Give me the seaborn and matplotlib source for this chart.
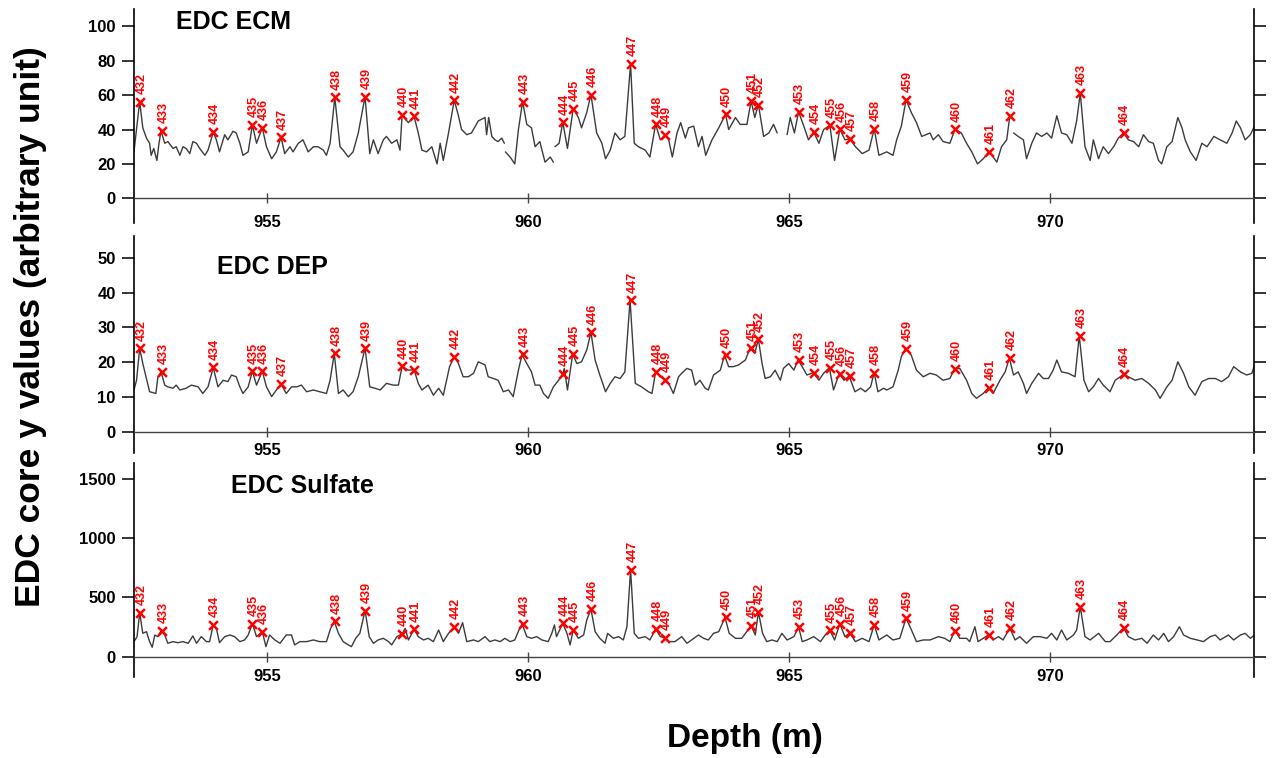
import numpy as np
import pandas as pd
import seaborn as sns
import matplotlib.pyplot as plt

nan = float("nan")

# volcanic events picked on the three records
event_id = [432, 433, 434, 435, 436, 437, 438, 439, 440, 441, 442,
            443, 444, 445, 446, 447, 448, 449, 450, 451, 452, 453,
            454, 455, 456, 457, 458, 459, 460, 461, 462, 463, 464]
event_depth = [952.55, 952.97, 953.96, 954.70, 954.90, 955.26, 956.29, 956.87, 957.58, 957.81, 958.58,
               959.89, 960.66, 960.86, 961.20, 961.96, 962.44, 962.62, 963.78, 964.27, 964.41, 965.18,
               965.47, 965.78, 965.97, 966.16, 966.63, 967.24, 968.18, 968.83, 969.24, 970.58, 971.41]
ecm_peak = [56.3, 39.2, 38.5, 42.7, 41.1, 35.5, 58.8, 59.2, 48.4, 47.6, 57.1,
            56.3, 44.3, 52.2, 60.4, 78.3, 43.1, 36.9, 48.9, 56.7, 54.5, 50.3,
            38.6, 42.5, 40.2, 34.6, 40.4, 57.3, 40.2, 27.2, 48.1, 61.2, 38.2]
dep_peak = [24.0, 17.2, 18.5, 17.4, 17.4, 13.7, 22.5, 24.0, 18.8, 17.8, 21.6,
            22.2, 16.6, 22.3, 28.6, 37.8, 17.2, 14.9, 22.0, 24.0, 26.6, 20.6,
            17.0, 18.4, 16.7, 16.0, 17.0, 23.9, 18.1, 12.6, 21.2, 27.6, 16.5]
so4_peak = [369, 220, 270, 279, 211, None, 299, 389, 192, 231, 253,
            276, 282, 225, 403, 735, 234, 160, 333, 262, 378, 251,
            None, 223, 276, 200, 268, 324, 220, 186, 242, 422, 245]

# ECM trace (nan = gap in the record)
ecm_depth = [952.44, 952.55, 952.61, 952.68, 952.74, 952.77, 952.82, 952.88, 952.92, 952.96,
             953.03, 953.09, 953.19, 953.25, 953.32, 953.38, 953.44, 953.51, 953.57, 953.64,
             953.70, 953.80, 953.86, 953.96, 954.02, 954.08, 954.18, 954.24, 954.34, 954.40,
             954.47, 954.53, 954.63, 954.71, 954.79, 954.90, 954.98, 955.08, 955.17, 955.26,
             955.33, 955.43, 955.49, 955.59, 955.68, 955.78, 955.88, 955.97, 956.07, 956.13,
             956.20, 956.29, 956.39, 956.45, 956.55, 956.64, 956.74, 956.87, 956.96, 957.03,
             957.12, 957.22, 957.28, 957.38, 957.48, 957.54, 957.58, 957.70, 957.81, 957.89,
             957.96, 958.05, 958.15, 958.25, 958.31, 958.37, 958.47, 958.58, 958.66, 958.72,
             958.82, 958.91, 959.04,
             959.17, 959.20, 959.24, 959.30, 959.36, 959.42, 959.49, 959.54, 959.55, 959.56,
             959.65, 959.74, 959.81, 959.89, 959.97, 960.06, 960.13, 960.22, 960.32, 960.42,
             960.48, 960.50, 960.51, 960.59, 960.66, 960.75, 960.86, 960.96, 961.02, 961.12,
             961.20, 961.31, 961.41, 961.48, 961.57, 961.66, 961.76, 961.85, 961.96, 962.03,
             962.11, 962.24, 962.33, 962.44, 962.53, 962.62, 962.69, 962.76, 962.85, 962.92,
             963.01, 963.07, 963.17, 963.26, 963.33, 963.40, 963.52, 963.65, 963.78, 963.84,
             963.97, 964.06, 964.19, 964.27, 964.34, 964.41, 964.51, 964.61, 964.70, 964.77,
             964.86, 964.96, 965.02, 965.10, 965.18, 965.28, 965.37, 965.47, 965.57, 965.66,
             965.78, 965.87, 965.97, 966.07, 966.16, 966.27, 966.40, 966.53, 966.63, 966.72,
             966.87, 966.99, 967.06, 967.15, 967.24, 967.34, 967.44, 967.54, 967.70, 967.76,
             967.86, 967.95, 968.08, 968.18, 968.30, 968.40, 968.50, 968.61, 968.72, 968.83,
             968.91, 968.98, 969.07, 969.17, 969.23, 969.27, 969.30, 969.39, 969.49, 969.55,
             969.65, 969.74, 969.84, 969.94, 970.03, 970.13, 970.22, 970.32, 970.42, 970.51,
             970.58, 970.67, 970.77, 970.83, 970.93, 971.02, 971.12, 971.22, 971.31, 971.41,
             971.50, 971.60, 971.70, 971.79, 971.89, 971.98, 972.08, 972.14, 972.24, 972.34,
             972.45, 972.53, 972.59, 972.69, 972.80, 972.91, 973.01, 973.14, 973.26, 973.39,
             973.49, 973.57, 973.65, 973.74, 973.84, 973.92]
ecm_value = [27, 56.3, 41, 35, 32, 25, 29, 22, 32, 39.2,
             32, 33, 29, 30, 25, 30, 29, 26, 33, 32,
             29, 25, 28, 38.5, 34, 27, 37, 34, 39, 38,
             32, 25, 27, 42.7, 32, 41.1, 30, 23, 27, 35.5,
             26, 30, 27, 32, 34, 27, 30, 30, 28, 25,
             32, 58.8, 30, 28, 24, 27, 38, 59.2, 26, 34,
             26, 34, 36, 32, 34, 28, 48.4, 44, 47.6, 38,
             28, 27, 30, 20, 32, 22, 38, 57.1, 48, 40,
             37, 38, 45,
             47, 37, 47, 36, 34, 33, 35, 32, nan, 27,
             24, 20, 40, 56.3, 43, 41, 30, 33, 21, 24,
             21, nan, 30, 32, 44.3, 29, 52.2, 47, 41, 50,
             60.4, 38, 32, 23, 28, 38, 34, 36, 78.3, 32,
             30, 28, 24, 43.1, 34, 36.9, 34, 24, 38, 44,
             35, 41, 42, 30, 36, 25, 34, 41, 48.9, 40,
             47, 43, 43, 56.7, 47, 54.5, 36, 38, 43, 38,
             nan, 37, 47, 38, 50.3, 42, 34, 38.6, 32, 40,
             42.5, 22, 40.2, 34, 34.6, 30, 26, 28, 40.4, 25,
             27, 25, 34, 42, 57.3, 50, 44, 36, 38, 34,
             37, 33, 32, 40.2, 38, 32, 27, 20, 23, 27.2,
             24, 21, 30, 34, 48.1, nan, 38, 36, 34, 23,
             32, 38, 36, 38, 35, 48, 38, 37, 32, 45,
             61.2, 30, 22, 34, 23, 30, 26, 30, 35, 38.2,
             34, 33, 30, 37, 33, 32, 22, 20, 30, 33,
             47, 41, 34, 27, 22, 32, 30, 36, 34, 32,
             38, 45, 41, 34, 37, 42]

# DEP trace
dep_depth = [952.44, 952.49, 952.55, 952.61, 952.68, 952.74, 952.86, 952.90, 952.96, 953.03,
             953.09, 953.19, 953.25, 953.32, 953.44, 953.54, 953.67, 953.76, 953.86, 953.96,
             954.05, 954.15, 954.24, 954.31, 954.40, 954.47, 954.53, 954.63, 954.71, 954.79,
             954.90, 954.98, 955.08, 955.17, 955.26, 955.36, 955.46, 955.56, 955.65, 955.75,
             955.88, 956.00, 956.13, 956.20, 956.28, 956.36, 956.45, 956.55, 956.64, 956.74,
             956.87, 956.96, 957.06, 957.16, 957.28, 957.41, 957.51, 957.58, 957.70, 957.81,
             957.89, 957.96, 958.08, 958.18, 958.28, 958.37, 958.49, 958.58, 958.66, 958.75,
             958.85, 958.95, 959.04,
             959.17, 959.23, 959.33, 959.42, 959.52, 959.62, 959.71, 959.81, 959.88, 959.97,
             960.06, 960.13, 960.22, 960.29, 960.38, 960.48, 960.58, 960.66, 960.69, 960.75,
             960.85, 960.93, 961.02, 961.12, 961.20, 961.28, 961.37, 961.48, 961.57, 961.66,
             961.76, 961.85, 961.95, 962.05, 962.17, 962.30, 962.37, 962.44, 962.53, 962.62,
             962.69, 962.78, 962.88, 962.94, 963.04, 963.13, 963.20, 963.29, 963.39, 963.45,
             963.55, 963.68, 963.76, 963.84, 963.93, 964.03, 964.16, 964.25, 964.34, 964.41,
             964.48, 964.54, 964.64, 964.73, 964.83, 964.89, 964.99, 965.09, 965.17, 965.25,
             965.34, 965.46, 965.57, 965.66, 965.77, 965.85, 965.96, 966.05, 966.15, 966.26,
             966.37, 966.46, 966.56, 966.63, 966.70, 966.81,
             966.87, 966.99, 967.09, 967.15, 967.23, 967.34, 967.44, 967.57, 967.70, 967.82,
             967.95, 968.08, 968.17, 968.27, 968.40, 968.50, 968.59, 968.72, 968.82, 968.91,
             969.04, 969.14, 969.22, 969.30, 969.39, 969.49, 969.55, 969.65, 969.78, 969.87,
             969.97, 970.06, 970.13, 970.22, 970.35, 970.48, 970.56, 970.65, 970.74, 970.83,
             970.93, 971.02, 971.15, 971.25, 971.41, 971.50, 971.63, 971.76, 971.89, 972.02,
             972.11, 972.24, 972.34, 972.45, 972.56, 972.66, 972.78, 972.91, 973.04, 973.17,
             973.29, 973.42, 973.52, 973.65, 973.77, 973.87, 973.92]
dep_value = [12.0, 14.8, 24.0, 19.6, 15.3, 11.5, 11.0, 15.8, 17.2, 13.4,
             12.9, 12.5, 13.4, 12.0, 12.5, 13.4, 12.9, 11.0, 12.9, 18.5,
             12.9, 14.8, 14.4, 16.3, 15.8, 12.9, 11.0, 12.9, 17.4, 13.4,
             17.4, 12.9, 10.1, 12.0, 13.7, 11.0, 12.9, 12.9, 13.4, 11.5,
             12.0, 11.5, 11.0, 14.8, 22.5, 11.0, 12.0, 10.1, 11.5, 15.8,
             24.0, 12.9, 12.5, 12.0, 13.9, 13.4, 13.4, 18.8, 17.7, 17.8,
             13.9, 12.0, 13.4, 10.5, 12.5, 10.5, 18.7, 21.6, 19.6, 15.8,
             15.8, 16.8, 20.1,
             19.2, 15.8, 15.3, 14.8, 11.5, 12.0, 10.1, 17.7, 22.2, 19.6,
             17.2, 13.4, 13.4, 11.0, 9.6, 12.9, 14.8, 16.6, 18.2, 12.0,
             22.3, 19.6, 20.1, 23.5, 28.6, 20.6, 16.3, 11.5, 13.9, 15.8,
             15.3, 17.2, 37.8, 13.9, 12.9, 11.5, 11.0, 17.2, 15.8, 14.9,
             13.9, 11.0, 15.8, 16.8, 18.2, 17.7, 13.4, 14.8, 12.5, 12.0,
             16.3, 17.7, 22.0, 18.7, 18.7, 19.2, 20.6, 24.0, 22.5, 26.6,
             19.6, 15.3, 15.8, 17.7, 14.8, 18.2, 19.6, 17.7, 20.6, 18.7,
             16.3, 17.0, 14.8, 16.8, 18.4, 12.0, 16.7, 14.8, 16.0, 11.5,
             12.5, 11.5, 12.9, 17.0, 11.5, 12.5,
             12.0, 12.9, 17.7, 21.6, 23.9, 22.0, 17.7, 15.8, 16.8, 16.3,
             14.8, 15.3, 18.1, 18.2, 14.8, 11.0, 9.6, 11.0, 12.6, 11.0,
             14.8, 17.2, 21.2, 16.3, 17.2, 13.9, 11.0, 13.9, 16.8, 15.3,
             15.3, 17.7, 20.6, 17.2, 16.8, 15.8, 27.6, 14.8, 11.5, 12.9,
             15.3, 13.4, 11.5, 14.8, 16.5, 15.8, 14.8, 15.3, 13.9, 12.0,
             9.6, 12.9, 14.8, 20.1, 16.8, 12.9, 10.5, 14.4, 15.3, 15.3,
             14.4, 15.8, 18.7, 17.2, 16.3, 16.8, 19.2]

# sulfate trace
so4_depth = [952.44, 952.50, 952.55, 952.61, 952.68, 952.74, 952.79, 952.84, 952.90, 952.96,
             953.03, 953.09, 953.19, 953.28, 953.38, 953.48, 953.57, 953.64, 953.73, 953.83,
             953.89, 953.96, 954.02, 954.08, 954.18, 954.28, 954.37, 954.47, 954.56, 954.63,
             954.71, 954.79, 954.90, 954.97, 955.04, 955.14, 955.24, 955.36, 955.46, 955.52,
             955.62, 955.75, 955.88, 956.00, 956.13, 956.21, 956.28, 956.36, 956.45, 956.55,
             956.61, 956.69, 956.77, 956.87, 956.95, 957.03, 957.12, 957.22, 957.32, 957.38,
             957.48, 957.58, 957.64, 957.70, 957.81, 957.89, 957.99, 958.08, 958.18, 958.28,
             958.37, 958.47, 958.58, 958.66, 958.74, 958.82, 958.95, 959.04,
             959.17, 959.26, 959.36, 959.46, 959.55, 959.65, 959.74, 959.82, 959.88, 959.97,
             960.06, 960.16, 960.26, 960.38, 960.45, 960.50, 960.54, 960.66, 960.74, 960.80,
             960.86, 960.96, 961.06, 961.12, 961.20, 961.28, 961.37, 961.47, 961.52, 961.63,
             961.73, 961.82, 961.89, 961.96, 962.03, 962.11, 962.24, 962.33, 962.44, 962.53,
             962.62, 962.69, 962.81, 962.94, 963.04, 963.13, 963.26, 963.36, 963.45, 963.55,
             963.65, 963.77, 963.85, 963.97, 964.09, 964.21, 964.27, 964.35, 964.41, 964.49,
             964.57, 964.67, 964.77, 964.86, 964.96, 965.09, 965.18, 965.25, 965.34, 965.47,
             965.60, 965.69, 965.78, 965.87, 965.97, 966.07, 966.16, 966.27, 966.40, 966.53,
             966.63, 966.72,
             966.87, 966.99, 967.12, 967.24, 967.33, 967.44, 967.57, 967.70, 967.86, 967.98,
             968.08, 968.18, 968.27, 968.40, 968.46, 968.56, 968.62, 968.72, 968.83, 968.91,
             969.01, 969.10, 969.23, 969.33, 969.42, 969.55, 969.68, 969.81, 969.94, 970.03,
             970.13, 970.22, 970.32, 970.45, 970.51, 970.58, 970.67, 970.77, 970.93, 971.06,
             971.15, 971.28, 971.41, 971.50, 971.63, 971.76, 971.86, 971.98, 972.08, 972.18,
             972.27, 972.37, 972.48, 972.56, 972.69, 972.82, 972.94, 973.07, 973.17, 973.26,
             973.42, 973.52, 973.65, 973.74, 973.84, 973.92]
so4_value = [127, 169, 369, 197, 211, 127, 79, 183, 169, 220,
             183, 113, 127, 118, 127, 113, 175, 113, 169, 127,
             127, 270, 239, 118, 169, 183, 169, 127, 141, 183,
             279, 169, 211, 85, 183, 141, 113, 183, 183, 99,
             127, 127, 141, 127, 127, 239, 299, 197, 127, 99,
             85, 155, 197, 389, 169, 113, 141, 155, 127, 99,
             169, 192, 239, 141, 231, 169, 141, 155, 127, 225,
             127, 197, 253, 197, 287, 127, 141, 127,
             169, 127, 141, 127, 155, 127, 141, 225, 276, 169,
             155, 169, 141, 127, 197, 268, 169, 282, 197, 99,
             225, 155, 183, 310, 403, 211, 155, 113, 197, 155,
             169, 141, 253, 735, 197, 155, 169, 141, 234, 169,
             160, 127, 127, 169, 113, 141, 183, 155, 141, 197,
             211, 333, 197, 155, 155, 225, 262, 183, 378, 197,
             127, 141, 127, 197, 141, 169, 251, 127, 141, 169,
             127, 183, 223, 141, 276, 169, 200, 127, 155, 127,
             268, 141,
             183, 141, 155, 324, 239, 127, 141, 141, 169, 155,
             127, 220, 155, 155, 127, 253, 127, 155, 186, 141,
             169, 141, 242, 141, 169, 113, 169, 169, 155, 197,
             141, 225, 141, 183, 225, 422, 169, 141, 197, 127,
             127, 183, 245, 169, 141, 155, 113, 183, 141, 197,
             127, 169, 253, 183, 155, 141, 127, 169, 183, 141,
             183, 141, 183, 197, 155, 183]

# figure: 3 stacked panels
sns.set_style("white")
plt.rcParams["font.family"] = ["Liberation Sans", "DejaVu Sans"]
plt.rcParams["font.weight"] = "bold"
plt.rcParams["text.color"] = "black"

fig = plt.figure(figsize=(12.83, 7.58), dpi=100)

panels = [
    ("EDC ECM", ecm_depth, ecm_value, ecm_peak, (-14.6, 110), [0, 20, 40, 60, 80, 100],
     [0.1044, 0.7054, 0.8730, 0.2823], (0.0372, 0.9065), 8.2),
    ("EDC DEP", dep_depth, dep_value, dep_peak, (-6.1, 56.1), [0, 10, 20, 30, 40, 50],
     [0.1044, 0.4024, 0.8730, 0.2856], (0.0738, 0.827), 4.6),
    ("EDC Sulfate", so4_depth, so4_value, so4_peak, (-169, 1636), [0, 500, 1000, 1500],
     [0.1044, 0.1073, 0.8730, 0.2819], (0.0863, 0.858), 5.1),
]

for title, depth, value, peak, ylim, yticks, rect, title_xy, xpad in panels:
    ax = fig.add_axes(rect)
    val = np.array(value, dtype=float)
    df = pd.DataFrame({"depth": depth, "value": val,
                       "seg": np.cumsum(np.isnan(val))}).dropna()
    sns.lineplot(data=df, x="depth", y="value", units="seg", estimator=None,
                 color="#3c3c3c", lw=1.0, ax=ax)

    ev = pd.DataFrame({"id": event_id, "depth": event_depth, "value": peak}).dropna()
    sns.scatterplot(data=ev, x="depth", y="value", marker="x", color="red",
                    s=40, linewidth=1.8, ax=ax, zorder=4)
    for eid, d, v in zip(ev["id"], ev["depth"], ev["value"]):
        ax.annotate(str(int(eid)), (d, v), xytext=(1.2, 5.5), textcoords="offset points",
                    rotation=90, ha="center", va="bottom", color="red",
                    fontsize=9, fontweight="bold")

    ax.set_xlim(952.44, 973.91)
    ax.set_ylim(*ylim)
    ax.set_xticks([955, 960, 965, 970])
    ax.set_yticks(yticks)
    ax.set_xlabel("")
    ax.set_ylabel("")

    ax.spines["top"].set_visible(False)
    ax.spines["bottom"].set_position(("data", 0))
    ax.spines["bottom"].set_color("#444444")
    ax.spines["bottom"].set_linewidth(1.0)
    for side in ("left", "right"):
        ax.spines[side].set_color("black")
        ax.spines[side].set_linewidth(1.2)

    ax.tick_params(axis="y", direction="out", length=8.6, width=1.1, left=True, right=True,
                   labelleft=True, labelright=False, labelsize=12, pad=4.5, colors="black")
    ax.tick_params(axis="x", direction="inout", length=7.6, width=1.0, bottom=True, top=False,
                   labelsize=12, pad=xpad, colors="black")
    ax.tick_params(axis="x", color="#444444")

    ax.text(title_xy[0], title_xy[1], title, transform=ax.transAxes, ha="left",
            va="baseline", fontsize=18, fontweight="bold", color="black")

fig.text(0.0234, 0.5686, "EDC core y values (arbitrary unit)", rotation=90,
         ha="center", va="center", fontsize=25.5, fontweight="bold", color="black")
fig.text(0.5804, 0.0253, "Depth (m)", ha="center", va="center",
         fontsize=24, fontweight="bold", color="black")

fig.savefig("out.png", dpi=100)
